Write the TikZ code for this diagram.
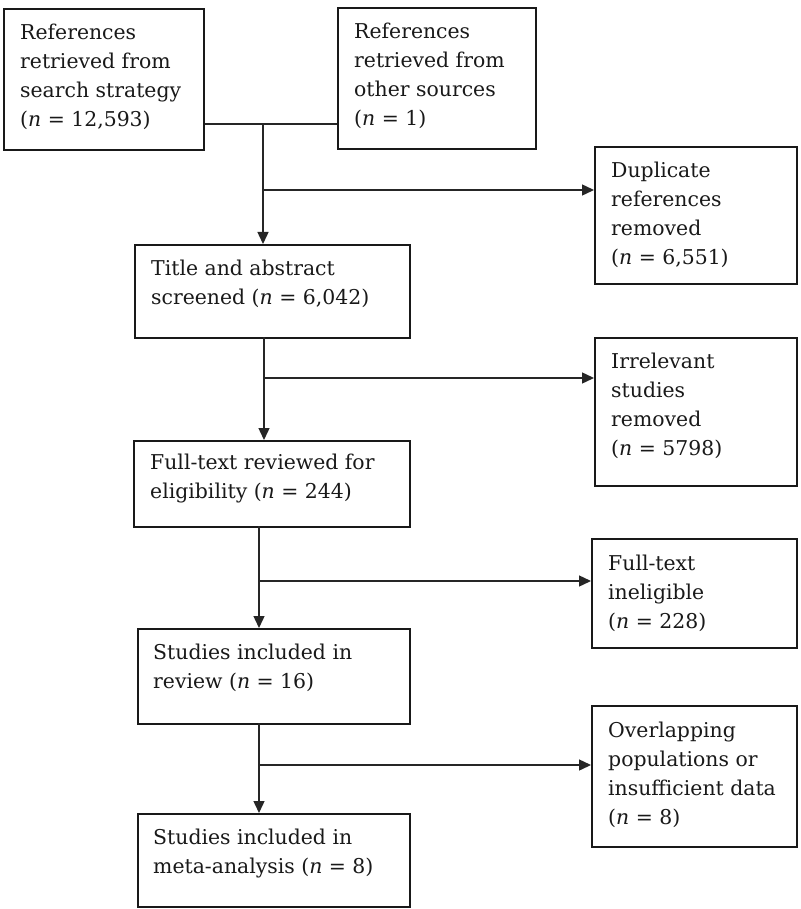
\documentclass[tikz,border=0pt]{standalone}
\usepackage{fontspec}
\setmainfont{DejaVu Serif}
\usetikzlibrary{arrows.meta}
\begin{document}
\begin{tikzpicture}[x=1pt,y=-1pt,
  frame/.style={draw=black!90, line width=1.7pt, rectangle, inner sep=0pt, anchor=north west},
  txt/.style={anchor=north west, inner sep=0pt, align=left, font=\fontsize{20.4}{29}\selectfont, text=black!90},
  conn/.style={draw=black!85, line width=1.4pt},
  arr/.style={conn, -{Triangle[length=12pt,width=11pt]}}]
\fill[white] (0,0) rectangle (800,909);
\useasboundingbox (0,0) rectangle (800,909);
% boxes
\node[frame, minimum width=200pt, minimum height=141pt] (A) at (3,8) {};
\node[txt] (At) at ([shift={(17,16)}]A.north west) {References\\retrieved from\\search strategy\\(\textit{n} = 12,593)};
\node[frame, minimum width=198pt, minimum height=141pt] (B) at (337,7) {};
\node[txt] (Bt) at ([shift={(17,16)}]B.north west) {References\\retrieved from\\other sources\\(\textit{n} = 1)};
\node[frame, minimum width=202pt, minimum height=137pt] (D) at (594,146) {};
\node[txt] (Dt) at ([shift={(17,16)}]D.north west) {Duplicate\\references\\removed\\(\textit{n} = 6,551)};
\node[frame, minimum width=275pt, minimum height=93pt] (T) at (134,244) {};
\node[txt] (Tt) at ([shift={(17,16)}]T.north west) {Title and abstract\\screened (\textit{n} = 6,042)};
\node[frame, minimum width=202pt, minimum height=148pt] (I) at (594,337) {};
\node[txt] (It) at ([shift={(17,16)}]I.north west) {Irrelevant\\studies\\removed\\(\textit{n} = 5798)};
\node[frame, minimum width=276pt, minimum height=86pt] (F) at (133,440) {};
\node[txt] (Ft) at ([shift={(17,14)}]F.north west) {Full-text reviewed for\\eligibility (\textit{n} = 244)};
\node[frame, minimum width=205pt, minimum height=109pt] (E) at (591,538) {};
\node[txt] (Et) at ([shift={(17,17)}]E.north west) {Full-text\\ineligible\\(\textit{n} = 228)};
\node[frame, minimum width=272pt, minimum height=95pt] (S) at (137,628) {};
\node[txt] (St) at ([shift={(16,16)}]S.north west) {Studies included in\\review (\textit{n} = 16)};
\node[frame, minimum width=205pt, minimum height=141pt] (O) at (591,705) {};
\node[txt] (Ot) at ([shift={(17,17)}]O.north west) {Overlapping\\populations or\\insufficient data\\(\textit{n} = 8)};
\node[frame, minimum width=272pt, minimum height=93pt] (M) at (137,813) {};
\node[txt] (Mt) at ([shift={(16,16)}]M.north west) {Studies included in\\meta-analysis (\textit{n} = 8)};
% junction coordinates
\coordinate (j1) at (263,124);
\coordinate (b1) at (263,190);
\coordinate (j2) at (264,337);
\coordinate (b2) at (264,378);
\coordinate (j3) at (259,526);
\coordinate (b3) at (259,581);
\coordinate (j4) at (259,723);
\coordinate (b4) at (259,765);
% connectors
\draw[conn] (j1 -| A.east) -- (j1 -| B.west);
\draw[arr] (j1) -- (j1 |- T.north);
\draw[arr] (b1) -- (b1 -| D.west);
\draw[arr] (j2) -- (j2 |- F.north);
\draw[arr] (b2) -- (b2 -| I.west);
\draw[arr] (j3) -- (j3 |- S.north);
\draw[arr] (b3) -- (b3 -| E.west);
\draw[arr] (j4) -- (j4 |- M.north);
\draw[arr] (b4) -- (b4 -| O.west);
\end{tikzpicture}
\end{document}
